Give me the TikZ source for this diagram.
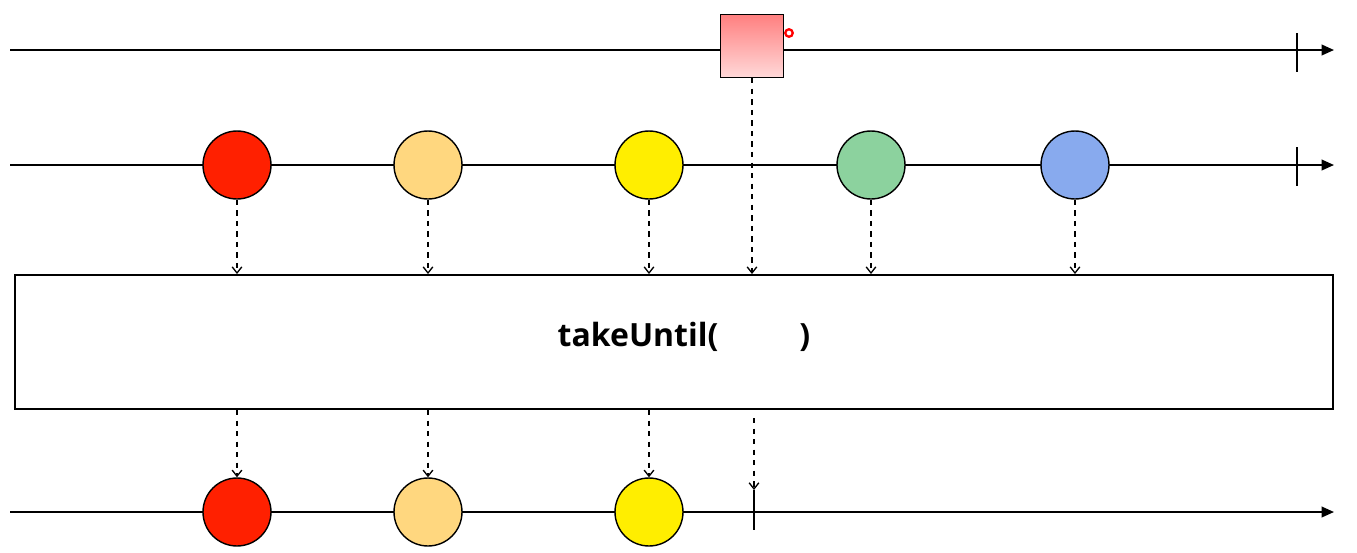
\documentclass[tikz,border=0pt]{standalone}
\usepackage{fontspec}
\setsansfont{Open Sans}
\usetikzlibrary{arrows.meta,shadings}
\tikzset{
  timeline/.style={line width=1.1pt,-{Triangle[length=7pt,width=6pt]}},
  marble/.style={circle,draw,line width=0.8pt,minimum size=1.36cm,inner sep=0pt},
  flow/.style={dashed,line width=0.75pt,-{Straight Barb[length=3.5pt,width=5.5pt]}},
  endtick/.style={line width=0.9pt}
}
\begin{document}
\begin{tikzpicture}[x=0.02cm,y=-0.02cm]
			\useasboundingbox (0,0) rectangle (1357,552);
			% notifier line
			\coordinate (n0) at (10,50);
			\coordinate (n1) at (1334,50);
			\draw[timeline] (n0) -- (n1);
			\draw[endtick] (1297,33) -- (1297,72);
			\node[draw,line width=0.8pt,minimum size=1.26cm,inner sep=0pt,top color=red!50,bottom color=red!15] (stop) at (752,46) {};
			\node[circle,draw=red,line width=1.3pt,minimum size=0.15cm,inner sep=0pt] (cursor) at (789,33) {};
			% source line
			\coordinate (s0) at (10,165);
			\coordinate (s1) at (1334,165);
			\draw[timeline] (s0) -- (s1);
			\draw[endtick] (1297,147) -- (1297,186);
			\node[marble,fill={rgb,255:red,255;green,32;blue,0}] (red) at (237,165) {};
			\node[marble,fill={rgb,255:red,255;green,215;blue,127}] (orange) at (428,165) {};
			\node[marble,fill={rgb,255:red,255;green,238;blue,0}] (yellow) at (649,165) {};
			\node[marble,fill={rgb,255:red,140;green,210;blue,158}] (green) at (871,165) {};
			\node[marble,fill={rgb,255:red,136;green,170;blue,238}] (blue) at (1075,165) {};
			% operator
			\node[draw,line width=1.1pt,minimum width=26.36cm,minimum height=2.68cm] (op) at (674,342) {};
			\node[font=\sffamily\bfseries\fontsize{18.2}{18.2}\selectfont] (opname) at (684,337) {takeUntil(\hspace{1.62cm})};
			\foreach \m in {red,orange,yellow,green,blue}
				\draw[flow] (\m.south) -- (\m.south |- op.north);
			\draw[flow] (stop.south) -- (stop.south |- op.north);
			% result line
			\coordinate (r0) at (10,512);
			\coordinate (r1) at (1334,512);
			\draw[timeline] (r0) -- (r1);
			\coordinate (done) at (754,490);
			\draw[endtick] (done) -- (754,530);
			\node[marble,fill={rgb,255:red,255;green,32;blue,0}] (red2) at (237,512) {};
			\node[marble,fill={rgb,255:red,255;green,215;blue,127}] (orange2) at (428,512) {};
			\node[marble,fill={rgb,255:red,255;green,238;blue,0}] (yellow2) at (649,512) {};
			\foreach \m in {red2,orange2,yellow2}
				\draw[flow] (\m.north |- op.south) -- (\m.north);
			\coordinate (donetop) at (754,418);
			\draw[flow] (donetop) -- (done);
		\end{tikzpicture}
\end{document}
